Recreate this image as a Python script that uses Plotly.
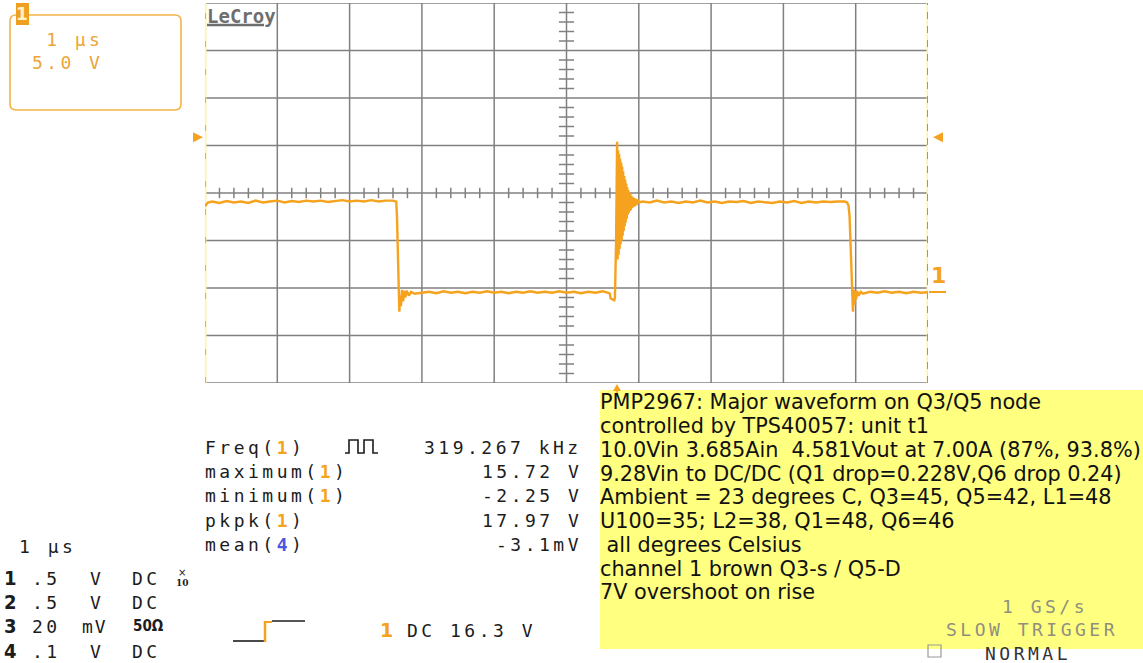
import plotly.graph_objects as go

# ---------------- data ----------------
# channel 1 waveform, time in microseconds (trigger = 0), volts
high1_t = [-5.70, -5.66, -5.60, -5.50, -5.40, -5.30, -5.20, -5.10, -5.00, -4.90,
           -4.80, -4.70, -4.60, -4.50, -4.40, -4.30, -4.20, -4.10, -4.00, -3.90,
           -3.80, -3.70, -3.60, -3.50, -3.40, -3.30, -3.20, -3.10]
high1_v = [9.0, 9.4, 9.5, 9.35, 9.55, 9.4, 9.5, 9.35, 9.6, 9.4,
           9.5, 9.6, 9.4, 9.55, 9.45, 9.6, 9.5, 9.6, 9.45, 9.55,
           9.65, 9.5, 9.6, 9.5, 9.65, 9.5, 9.6, 9.6]
fall1_t = [-3.055, -3.045, -3.030, -3.020, -3.012, -3.000, -2.990, -2.975,
           -2.960, -2.945, -2.930, -2.910, -2.880, -2.850, -2.800]
fall1_v = [9.5, 8.0, 3.4, 2.6, -2.1, -0.4, -1.5, 0.2, -1.0, 0.1, -0.6, 0.1, -0.4, 0.0, -0.2]
low1_t = [-2.70, -2.60, -2.50, -2.40, -2.30, -2.20, -2.10, -2.00, -1.90, -1.80,
          -1.70, -1.60, -1.50, -1.40, -1.30, -1.20, -1.10, -1.00, -0.90, -0.80,
          -0.70, -0.60, -0.50, -0.40, -0.30, -0.20, -0.12]
low1_v = [-0.1, 0.0, -0.15, 0.05, -0.1, 0.0, -0.15, 0.0, -0.1, 0.05,
          -0.1, 0.0, -0.15, 0.0, -0.1, 0.05, -0.1, 0.0, -0.1, 0.05,
          -0.1, 0.0, -0.15, 0.0, -0.1, 0.05, -0.1]
rise_t = [-0.10, -0.09, -0.06, -0.04, -0.03, -0.015]
rise_v = [-0.2, -0.7, -0.8, -0.9, -0.6, 5.0]
ring_t = [0.000, 0.007, 0.014, 0.021, 0.028, 0.035, 0.042, 0.049, 0.056, 0.063,
          0.070, 0.077, 0.084, 0.091, 0.098, 0.105, 0.112, 0.119, 0.126, 0.133,
          0.140, 0.147, 0.154, 0.161, 0.168, 0.175, 0.182, 0.189, 0.196, 0.203,
          0.212, 0.222, 0.232, 0.242, 0.254, 0.266, 0.280, 0.300]
ring_v = [15.8, 3.4, 14.9, 3.9, 14.5, 4.5, 14.0, 5.0, 13.6, 5.4,
          13.2, 5.9, 12.7, 6.4, 12.2, 6.9, 11.8, 7.3, 11.4, 7.7,
          11.0, 8.1, 10.7, 8.3, 10.5, 8.5, 10.3, 8.6, 10.1, 8.8,
          10.0, 8.9, 9.9, 9.0, 9.8, 9.1, 9.7, 9.4]
high2_t = [0.35, 0.45, 0.55, 0.65, 0.75, 0.85, 0.95, 1.05, 1.15, 1.25,
           1.35, 1.45, 1.55, 1.65, 1.75, 1.85, 1.95, 2.05, 2.15, 2.25,
           2.35, 2.45, 2.55, 2.65, 2.75, 2.85, 2.95, 3.05, 3.15, 3.18]
high2_v = [9.5, 9.4, 9.6, 9.4, 9.5, 9.35, 9.5, 9.4, 9.6, 9.4,
           9.5, 9.35, 9.5, 9.45, 9.55, 9.35, 9.5, 9.4, 9.35, 9.5,
           9.4, 9.55, 9.35, 9.5, 9.4, 9.5, 9.45, 9.5, 9.5, 9.4]
fall2_t = [3.20, 3.215, 3.23, 3.24, 3.25, 3.262, 3.272, 3.282, 3.292, 3.305, 3.32, 3.34, 3.37, 3.40]
fall2_v = [9.1, 8.0, 4.0, 1.0, -0.5, -2.1, 0.2, -1.4, 0.1, -0.8, 0.1, -0.4, 0.0, -0.2]
low2_t = [3.50, 3.60, 3.70, 3.80, 3.90, 4.00, 4.10, 4.20, 4.30]
low2_v = [0.0, -0.1, 0.05, -0.1, 0.0, -0.15, 0.0, -0.1, -0.05]

meas_labels = ["Freq", "maximum", "minimum", "pkpk", "mean"]
meas_channels = ["1", "1", "1", "1", "4"]
meas_values = ["319.267 kHz", "15.72 V", "-2.25 V", "17.97 V", "-3.1mV"]

ch_numbers = ["1", "2", "3", "4"]
ch_scales = [".5", ".5", "20", ".1"]
ch_units = ["V", "V", "mV", "V"]
ch_coupling = ["DC", "DC", "50\u03a9", "DC"]

note_lines = [
    "PMP2967: Major waveform on Q3/Q5 node",
    "controlled by TPS40057: unit t1",
    "10.0Vin 3.685Ain \u00a04.581Vout at 7.00A (87%, 93.8%)",
    "9.28Vin to DC/DC (Q1 drop=0.228V,Q6 drop 0.24)",
    "Ambient = 23 degrees C, Q3=45, Q5=42, L1=48",
    "U100=35; L2=38, Q1=48, Q6=46",
    "\u00a0all degrees Celsius",
    "channel 1 brown Q3-s / Q5-D",
    "7V overshoot on rise",
]

timebase_label = "1 \u00b5s"
volts_label = "5.0 V"
trigger_text = "DC 16.3 V"
trigger_level_v = 16.3

# ---------------- styling / geometry ----------------
W, H = 1143, 663
ORANGE = '#F5A31E'
ORANGE_TXT = '#EBA539'
GRID = '#808080'
INK = '#1c1c1c'
MONO = 'DejaVu Sans Mono'
SANS = 'DejaVu Sans'
MSIZE = 18
LS = 3.5  # letter spacing for the scope's wide pixel font

T_LEFT, T_DIV, NX = -5.7, 1.0, 10
V_BOT, V_DIV, NY = -9.6, 5.0, 8
T_RIGHT = T_LEFT + NX * T_DIV
V_TOP = V_BOT + NY * V_DIV
GX0, GX1, GY0, GY1 = 205, 928, 3, 383


def px(x):
    return x / W


def py(y):
    return 1 - y / H


time_us = high1_t + fall1_t + low1_t + rise_t + ring_t + high2_t + fall2_t + low2_t
ch1_volts = high1_v + fall1_v + low1_v + rise_v + ring_v + high2_v + fall2_v + low2_v

fig = go.Figure()
fig.add_trace(go.Scatter(x=time_us, y=ch1_volts, mode='lines',
                         line=dict(color=ORANGE, width=2.4),
                         hoverinfo='skip', showlegend=False))

shapes = []


def dline(x0, y0, x1, y1, color=GRID, width=1.5, dash=None, layer='below'):
    d = dict(type='line', xref='x', yref='y', x0=x0, y0=y0, x1=x1, y1=y1,
             line=dict(color=color, width=width), layer=layer)
    if dash:
        d['line']['dash'] = dash
    shapes.append(d)


def pline(x0, y0, x1, y1, color=INK, width=1.5, layer='above'):
    shapes.append(dict(type='line', xref='paper', yref='paper',
                       x0=px(x0), y0=py(y0), x1=px(x1), y1=py(y1),
                       line=dict(color=color, width=width), layer=layer))


def ppath(pts, fill=None, color=None, width=0, close=True, layer='above'):
    s = 'M ' + ' L '.join(f'{px(x):.5f},{py(y):.5f}' for x, y in pts)
    if close:
        s += ' Z'
    shapes.append(dict(type='path', xref='paper', yref='paper', path=s,
                       fillcolor=fill if fill else 'rgba(0,0,0,0)',
                       line=dict(color=color if color else 'rgba(0,0,0,0)', width=width),
                       layer=layer))


# graticule
for k in range(1, NX):
    t = T_LEFT + k * T_DIV
    dline(t, V_BOT, t, V_TOP)
for k in range(0, NY + 1):
    v = V_BOT + k * V_DIV
    dline(T_LEFT, v, T_RIGHT, v)
t_c = T_LEFT + NX / 2 * T_DIV
v_c = V_BOT + NY / 2 * V_DIV
for j in range(1, NX * 5):
    if j % 5:
        t = T_LEFT + j * T_DIV / 5
        dline(t, v_c - 0.55, t, v_c + 0.55)
for j in range(1, NY * 5):
    if j % 5:
        v = V_BOT + j * V_DIV / 5
        dline(t_c - 0.105, v, t_c + 0.105, v)
# left / right edges
dline(T_LEFT, V_BOT, T_LEFT, V_TOP, color='#FFF3A6', width=3)
dline(T_LEFT, V_BOT, T_LEFT, V_TOP, color='#8a8a8a', width=1.2, dash='6px,22px')
dline(T_RIGHT, V_BOT, T_RIGHT, V_TOP, color='#FFF3A6', width=3)
dline(T_RIGHT, V_BOT, T_RIGHT, V_TOP, color='#6a6a6a', width=1.3, dash='7px,7px')

# trigger level markers
ytr = 292 - trigger_level_v / V_DIV * 47.5
ppath([(193, ytr - 5), (203, ytr), (193, ytr + 5)], fill=ORANGE)
ppath([(943, ytr - 5), (933, ytr), (943, ytr + 5)], fill=ORANGE)
# trigger position marker
ppath([(613, 391), (617, 384), (621, 391)], fill=ORANGE)
pline(617, 386, 617, 394, color=ORANGE, width=1.5)
# ground marker
pline(929, 292, 946, 292, color=ORANGE, width=2)

# LeCroy underline
pline(207, 25, 264, 25, color='#6e6e6e', width=2.4)

# top-left channel box (rounded)
r = 6
bx0, by0, bx1, by1 = 10, 15, 181, 110
s = (f'M {px(bx0 + r)},{py(by0)} L {px(bx1 - r)},{py(by0)} '
     f'Q {px(bx1)},{py(by0)} {px(bx1)},{py(by0 + r)} L {px(bx1)},{py(by1 - r)} '
     f'Q {px(bx1)},{py(by1)} {px(bx1 - r)},{py(by1)} L {px(bx0 + r)},{py(by1)} '
     f'Q {px(bx0)},{py(by1)} {px(bx0)},{py(by1 - r)} L {px(bx0)},{py(by0 + r)} '
     f'Q {px(bx0)},{py(by0)} {px(bx0 + r)},{py(by0)} Z')
shapes.append(dict(type='path', xref='paper', yref='paper', path=s,
                   fillcolor='rgba(0,0,0,0)', line=dict(color='#F1B448', width=1.6)))
ppath([(16, 3), (29, 3), (29, 25), (16, 25)], fill='#F0A020')

# square-wave icon
ppath([(345, 453), (349, 453), (349, 440), (358, 440), (358, 453), (364, 453),
       (364, 440), (373, 440), (373, 453), (378, 453)], color=INK, width=1.6, close=False)

# trigger icon
pline(233, 641, 264, 641, color=INK, width=1.6)
pline(265, 642, 265, 621, color=ORANGE, width=2.5)
pline(265, 622, 272, 622, color=ORANGE, width=2)
pline(272, 621, 305, 621, color=INK, width=1.6)

# yellow notes box
ppath([(600, 390), (1143, 390), (1143, 649), (600, 649)], fill='#FFFF80', layer='below')
# checkbox
ppath([(928, 645), (941, 645), (941, 657), (928, 657)], color='#9a9a9a', width=1.2)

annotations = []


def T(x, y, text, size=MSIZE, color=INK, family=MONO, xanchor='left', ls=None, bold=False):
    if bold:
        text = f'<b>{text}</b>'
    if ls is not None:
        text = f'<span style="letter-spacing:{ls}px">{text}</span>'
    annotations.append(dict(x=px(x), y=py(y), xref='paper', yref='paper', text=text,
                            showarrow=False, xanchor=xanchor, yanchor='middle',
                            font=dict(family=family, size=size, color=color),
                            borderpad=0, align='left'))


def sp(text, color=None, bold=False, ls=LS):
    st = f'letter-spacing:{ls}px'
    if color:
        st += f';color:{color}'
    inner = f'<b>{text}</b>' if bold else text
    return f'<span style="{st}">{inner}</span>'


# top-left box texts (one two-line label)
T(29, 14, '1', size=17, color='#FFF2C8', family=SANS, xanchor='right', bold=True)
T(31, 51, '\u00a0' + timebase_label + '<br>' + volts_label, size=18, color=ORANGE_TXT, ls=3.4)

# LeCroy logo
T(206, 16, 'LeCroy', size=19, color='#6e6e6e', bold=True, ls=0)

# ground marker label
T(930, 275, '1', size=22, color=ORANGE, family=SANS, bold=True)

# measurements
meas_y = [447, 471, 495, 520, 544]
for lab, ch, val, yy in zip(meas_labels, meas_channels, meas_values, meas_y):
    c = ORANGE if ch == '1' else '#4a55e0'
    T(204, yy, sp(lab + '(') + sp(ch, color=c, bold=True) + sp(')'))
    T(583, yy, val, ls=LS, xanchor='right')

# timebase bottom-left
T(18, 546, timebase_label, ls=LS)

# channel table
row_y = [578, 602, 626, 651]
for num, sc, un, cp, yy in zip(ch_numbers, ch_scales, ch_units, ch_coupling, row_y):
    T(3, yy, num, size=20, family='DejaVu Sans Condensed, DejaVu Sans', bold=True)
    T(31, yy, sc, ls=LS)
    T(95, yy, un, ls=2 if len(un) > 1 else 0, xanchor='center')
    if cp.startswith('50'):
        T(132, yy, cp, size=15, family='DejaVu Sans Condensed, DejaVu Sans', bold=True)
    else:
        T(131, yy, cp, ls=LS)
T(182, 572, '\u00d7', size=10, family=SANS, xanchor='center')
T(182, 583, '10', size=9, family='DejaVu Serif', xanchor='center', bold=True)

# trigger setup
T(379, 630, '1', size=19, color=ORANGE, family=SANS, bold=True)
T(406, 630, trigger_text, ls=LS)

# notes
note_y = [402, 426, 450, 474, 497, 521, 545, 569, 592]
for line, yy in zip(note_lines, note_y):
    T(599, yy, line, size=20.8, family=SANS, color='#111111')

# acquisition status
T(1089, 606, '1 GS/s', color='#8f8f80', ls=LS, xanchor='right')
T(1119, 629, 'SLOW TRIGGER', color='#8f8f80', ls=LS, xanchor='right')
T(984, 653, 'NORMAL', color='#333333', ls=LS)

fig.update_layout(
    width=W, height=H, margin=dict(l=0, r=0, t=0, b=0, pad=0),
    paper_bgcolor='white', plot_bgcolor='white', showlegend=False,
    xaxis=dict(domain=[px(GX0), px(GX1)], range=[T_LEFT, T_RIGHT], showgrid=False,
               zeroline=False, showticklabels=False, ticks='', showline=False, fixedrange=True),
    yaxis=dict(domain=[py(GY1), py(GY0)], range=[V_BOT, V_TOP], showgrid=False,
               zeroline=False, showticklabels=False, ticks='', showline=False, fixedrange=True),
    shapes=shapes, annotations=annotations,
)

fig.write_html("out.html", config={'displayModeBar': False})
